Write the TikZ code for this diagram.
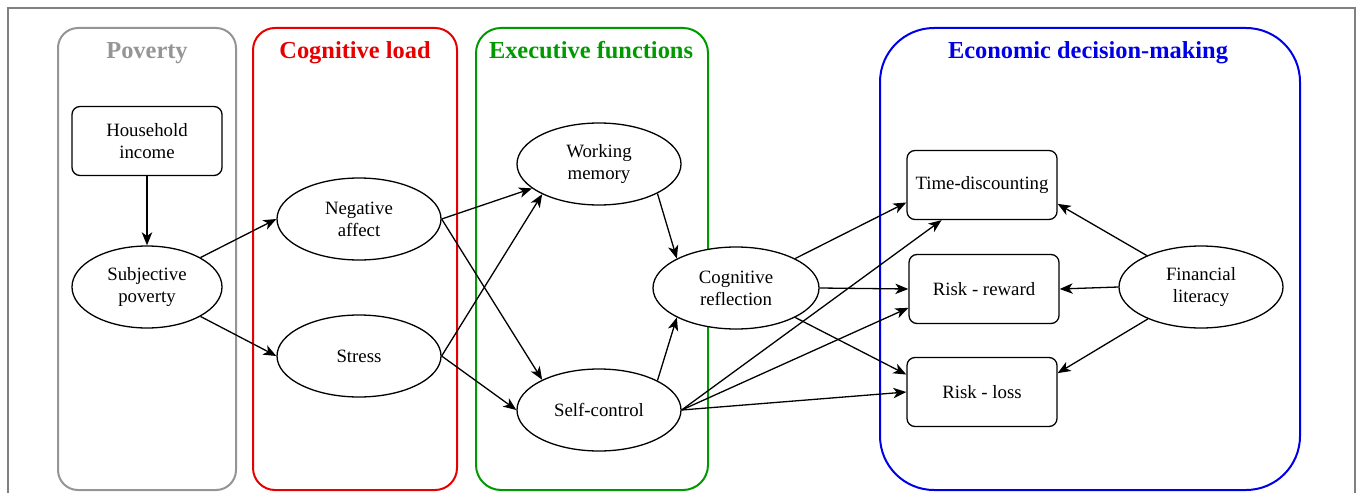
\documentclass[tikz,border=0pt]{standalone}
\usepackage{fontspec}
\setmainfont{Liberation Serif}
\usetikzlibrary{arrows.meta,shapes.geometric}
\definecolor{FrameGray}{HTML}{808080}
\definecolor{PovGray}{HTML}{959595}
\definecolor{LoadRed}{HTML}{E60000}
\definecolor{ExecGreen}{HTML}{009A00}
\definecolor{EconBlue}{HTML}{0000E6}
\tikzset{
  link/.style={-{Stealth[length=6.5pt,width=5.2pt,inset=1.8pt]}, line width=0.65pt, draw=black},
  groupbox/.style={line width=1pt, fill=none},
  heading/.style={font=\fontsize{12.2}{14}\selectfont\bfseries, inner sep=0pt, anchor=base},
  latent/.style={ellipse, draw, line width=0.65pt, fill=white, minimum width=82pt,
                 minimum height=41pt, inner sep=0pt, align=center,
                 font=\fontsize{9.4}{11}\selectfont},
  measure/.style={rectangle, rounded corners=4pt, draw, line width=0.65pt, fill=white,
                  minimum width=75pt, minimum height=34.5pt, inner sep=0pt, align=center,
                  font=\fontsize{9.4}{11}\selectfont},
}

\begin{document}
\begin{tikzpicture}[x=0.5pt,y=-0.5pt]
    \useasboundingbox (0,0) rectangle (1358,492);
    \clip (0,0) rectangle (1358,492);
    \draw[FrameGray, line width=0.75pt] (8,8) rectangle (1355,540);

    % the four stages
    \draw[groupbox, PovGray, rounded corners=10pt] (58,28) rectangle (236,490);
    \draw[groupbox, LoadRed, rounded corners=11pt] (253,28) rectangle (457,490);
    \draw[groupbox, ExecGreen, rounded corners=12.5pt] (476,28) rectangle (708,490);
    \draw[groupbox, EconBlue, rounded corners=27pt] (880,28) rectangle (1300,490);
    \node[heading, text=PovGray] (povtitle) at (147,59) {Poverty};
    \node[heading, text=LoadRed] (loadtitle) at (355,59) {Cognitive load};
    \node[heading, text=ExecGreen] (exectitle) at (591,59) {Executive functions};
    \node[heading, text=EconBlue] (econtitle) at (1088,59) {Economic decision-making};

    % variables
    \node[measure] (inc) at (147,141) {Household\\income};
    \node[latent, minimum width=75pt] (subj) at (147,287) {Subjective\\poverty};
    \node[latent] (neg) at (359,219) {Negative\\affect};
    \node[latent] (stress) at (359,356) {Stress};
    \node[latent] (wm) at (599,164) {Working\\memory};
    \node[latent] (sc) at (599,410) {Self-control};
    \node[latent, minimum width=83pt] (cr) at (736,288) {Cognitive\\reflection};
    \node[measure] (td) at (982,185) {Time-discounting};
    \node[measure] (rr) at (984,289) {Risk - reward};
    \node[measure] (rl) at (982,392) {Risk - loss};
    \node[latent] (fl) at (1201,287) {Financial\\literacy};

    % paths
    \draw[link] (inc) -- (subj);
    \draw[link] (subj.north east) -- (neg.west);
    \draw[link] (subj.south east) -- (stress.west);
    \draw[link] (neg.east) -- (wm.200);
    \draw[link] (neg.east) -- (sc.152);
    \draw[link] (stress.east) -- (wm.208);
    \draw[link] (stress.east) -- (sc.west);
    \draw[link] (wm.south east) -- (cr.north west);
    \draw[link] (sc.north east) -- (cr.south west);
    \draw[link] (cr.north east) -- (td.193);
    \draw[link] (cr.east) -- (rr.west);
    \draw[link] (cr.south east) -- (rl.167);
    \draw[link] (sc.east) -- (td.221);
    \draw[link] (sc.east) -- (rr.194);
    \draw[link] (sc.east) -- (rl.west);
    \draw[link] (fl) -- (td.-14);
    \draw[link] (fl.west) -- (rr.east);
    \draw[link] (fl) -- (rl.14);
\end{tikzpicture}
\end{document}
